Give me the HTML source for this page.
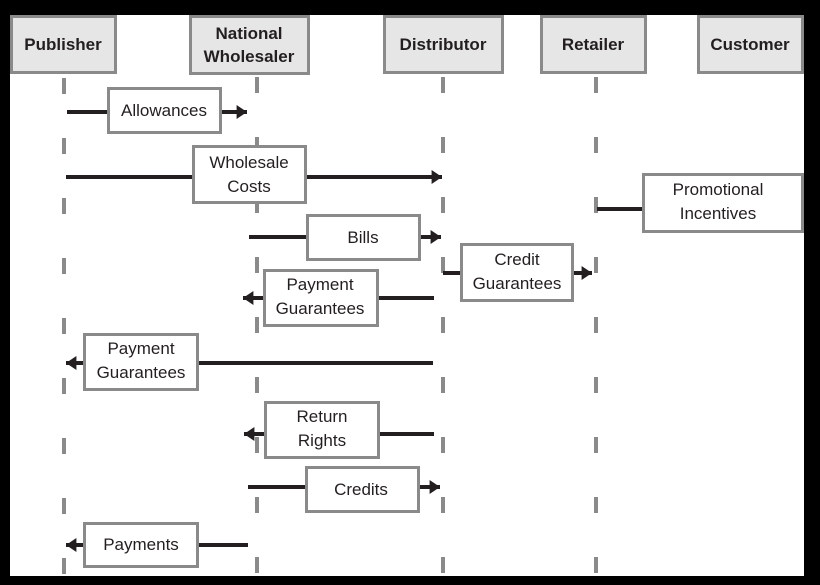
<!DOCTYPE html>
<html><head><meta charset="utf-8"><style>
html,body{margin:0;padding:0;background:#000;}
svg{display:block;}
text{font-family:"Liberation Sans",sans-serif;font-size:17px;fill:#231f20;text-anchor:middle;}
.h{font-weight:bold;}
</style></head><body>
<svg width="820" height="585" viewBox="0 0 820 585" xmlns="http://www.w3.org/2000/svg">
<defs>
<marker id="a" markerWidth="3" markerHeight="3.5" refX="2.6" refY="1.75" orient="auto" markerUnits="strokeWidth">
<path d="M0,0 L2.6,1.75 L0,3.5 z" fill="#231f20"/>
</marker>
</defs>
<rect x="10" y="15" width="794" height="561" fill="#fff"/>
<g stroke="#8a8a8a" stroke-width="4" stroke-dasharray="16 44">
<line x1="64" y1="78" x2="64" y2="576"/>
<line x1="257" y1="77" x2="257" y2="576"/>
<line x1="443" y1="77" x2="443" y2="576"/>
<line x1="596" y1="77" x2="596" y2="576"/>
</g>
<g fill="#e6e6e6" stroke="#8a8a8a" stroke-width="3">
<rect x="11.5" y="16.5" width="104" height="56"/>
<rect x="190.5" y="16.5" width="118" height="57"/>
<rect x="384.5" y="16.5" width="118" height="56"/>
<rect x="541.5" y="16.5" width="104" height="56"/>
<rect x="698.5" y="16.5" width="104" height="56"/>
</g>
<text class="h" x="63" y="50">Publisher</text>
<text class="h" x="249" y="39">National</text>
<text class="h" x="249" y="62">Wholesaler</text>
<text class="h" x="443" y="50">Distributor</text>
<text class="h" x="593" y="50">Retailer</text>
<text class="h" x="750" y="50">Customer</text>
<g stroke="#231f20" stroke-width="4" fill="none">
<line x1="67" y1="112" x2="247" y2="112" marker-end="url(#a)"/>
<line x1="66" y1="177" x2="442" y2="177" marker-end="url(#a)"/>
<line x1="597" y1="209" x2="643" y2="209"/>
<line x1="249" y1="237" x2="441" y2="237" marker-end="url(#a)"/>
<line x1="443" y1="273" x2="592" y2="273" marker-end="url(#a)"/>
<line x1="434" y1="298" x2="243" y2="298" marker-end="url(#a)"/>
<line x1="433" y1="363" x2="66" y2="363" marker-end="url(#a)"/>
<line x1="434" y1="434" x2="244" y2="434" marker-end="url(#a)"/>
<line x1="248" y1="487" x2="440" y2="487" marker-end="url(#a)"/>
<line x1="248" y1="545" x2="66" y2="545" marker-end="url(#a)"/>
</g>
<g fill="#fff" stroke="#8a8a8a" stroke-width="3">
<rect x="108.5" y="88.5" width="112" height="44"/>
<rect x="193.5" y="146.5" width="112" height="56"/>
<rect x="643.5" y="174.5" width="159" height="57"/>
<rect x="307.5" y="215.5" width="112" height="44"/>
<rect x="461.5" y="244.5" width="111" height="56"/>
<rect x="264.5" y="270.5" width="113" height="55"/>
<rect x="84.5" y="334.5" width="113" height="55"/>
<rect x="265.5" y="402.5" width="113" height="55"/>
<rect x="306.5" y="467.5" width="112" height="44"/>
<rect x="84.5" y="523.5" width="113" height="43"/>
</g>
<text x="164" y="116">Allowances</text>
<text x="249" y="168">Wholesale</text>
<text x="249" y="192">Costs</text>
<text x="718" y="195">Promotional</text>
<text x="718" y="219">Incentives</text>
<text x="363" y="243">Bills</text>
<text x="517" y="265">Credit</text>
<text x="517" y="289">Guarantees</text>
<text x="320" y="290">Payment</text>
<text x="320" y="314">Guarantees</text>
<text x="141" y="354">Payment</text>
<text x="141" y="378">Guarantees</text>
<text x="322" y="422">Return</text>
<text x="322" y="446">Rights</text>
<text x="361" y="495">Credits</text>
<text x="141" y="550">Payments</text>
</svg>
</body></html>
